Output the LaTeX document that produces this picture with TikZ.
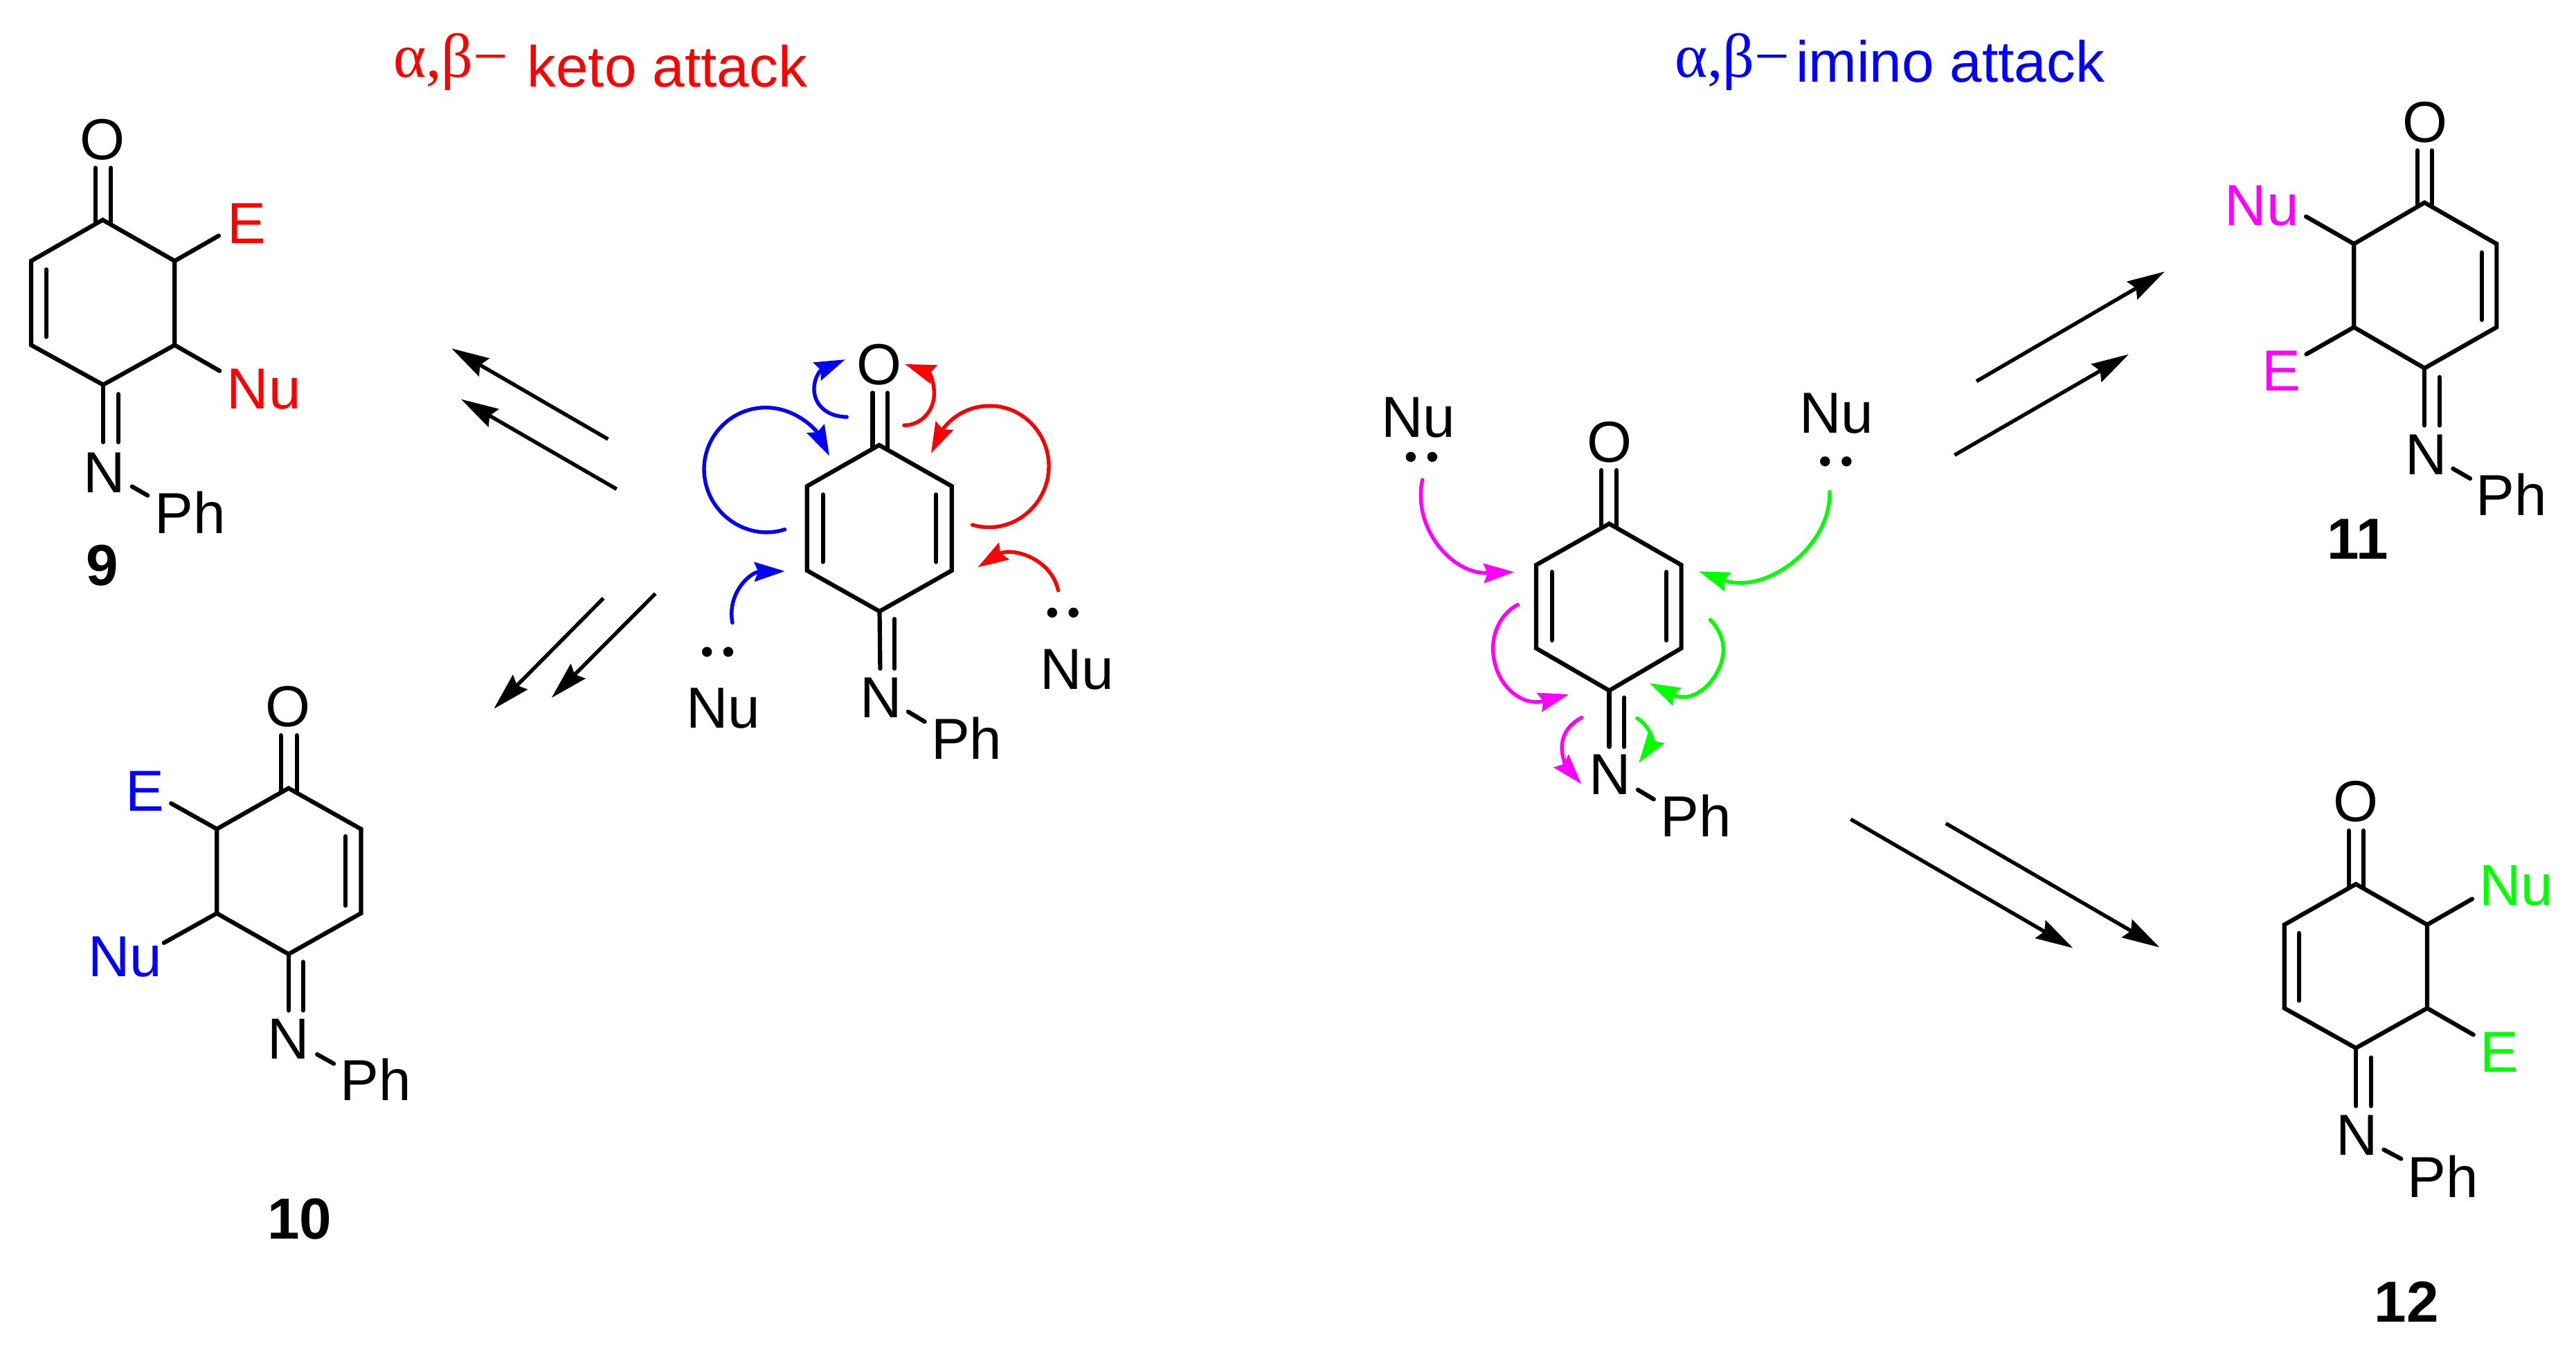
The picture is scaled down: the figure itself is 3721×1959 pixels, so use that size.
\documentclass[tikz,border=0pt]{standalone}
\usepackage{fontspec}
\setmainfont{Liberation Sans}
\newfontfamily\greekserif{Liberation Serif}
\usetikzlibrary{arrows.meta}
\definecolor{cred}{RGB}{255,0,0}
\definecolor{cblue}{RGB}{0,0,255}
\definecolor{cmag}{RGB}{255,0,255}
\definecolor{cgreen}{RGB}{0,255,0}
\tikzset{
  bond/.style={line width=1.55pt,line cap=round,line join=miter,black},
  ringb/.style={line width=1.55pt,line join=miter,black},
  rxn/.style={line width=1.35pt,black,-{Stealth[length=13.5pt,width=7.4pt,inset=1.6pt]}},
  curved/.style={line width=1.35pt,line cap=round,-{Stealth[length=11pt,width=7pt,inset=1.4pt]}},
  lbl/.style={inner sep=0pt,outer sep=0pt,anchor=base,font=\fontsize{20.9}{25}\selectfont},
  num/.style={lbl,font=\fontsize{20.9}{25}\selectfont\bfseries},
  lp/.style={circle,fill=black,inner sep=0pt,minimum size=3.6pt},
  grk/.style={inner sep=0pt,outer sep=0pt,anchor=base west,font=\fontsize{22.5}{27}\selectfont\greekserif},
}
\begin{document}
\begin{tikzpicture}[x=0.25pt,y=-0.25pt]
\useasboundingbox (0,0) rectangle (3721,1959);
% titles
\node[grk,text=cred] (tka) at (568,111.7) {α,β−};
\node[lbl,text=cred] (tkb) at (963.8,125) {keto attack};
\node[grk,text=cblue] (tia) at (2419,111.7) {α,β−};
\node[lbl,text=cblue] (tib) at (2817,118.3) {imino attack};
% ---------- molecule 9
\coordinate (a1) at (148.3,317.6); \coordinate (a2) at (252.3,376.9); \coordinate (a3) at (252.3,498.4);
\coordinate (a4) at (149,555.8); \coordinate (a5) at (45,498.4); \coordinate (a6) at (45,376.9);
\draw[ringb] (a1)--(a2)--(a3)--(a4)--(a5)--(a6)--cycle;
\coordinate (a7) at (66.7,389.3); \coordinate (a8) at (66.7,486.5);
\draw[bond] (a7)--(a8);
\coordinate (a9) at (137.7,242.4); \coordinate (a10) at (137.7,321); \coordinate (a11) at (160,242.4); \coordinate (a12) at (160,321);
\draw[bond] (a9)--(a10); \draw[bond] (a11)--(a12);
\coordinate (a13) at (316,340.5); \coordinate (a14) at (317.3,535.7);
\draw[bond] (a2)--(a13); \draw[bond] (a3)--(a14);
\coordinate (a15) at (149,638.6); \coordinate (a16) at (171,569.2); \coordinate (a17) at (171,638.6);
\draw[bond] (a4)--(a15); \draw[bond] (a16)--(a17);
\coordinate (a18) at (190.7,702.7); \coordinate (a19) at (213.3,715.6);
\draw[bond] (a18)--(a19);
\node[lbl] (aO) at (148.3,230) {O};
\node[lbl,text=cred] (aE) at (356,351) {E};
\node[lbl,text=cred] (aNu) at (381.3,590.8) {Nu};
\node[lbl] (aN) at (150.3,711.3) {N};
\node[lbl] (aPh) at (274.7,770.2) {Ph};
\node[num] (a9n) at (148,845.3) {9};
% ---------- molecule 10
\coordinate (b1) at (416.8,1138.5); \coordinate (b2) at (521.4,1197.4); \coordinate (b3) at (521.4,1319.1);
\coordinate (b4) at (416.8,1378.1); \coordinate (b5) at (313.2,1319.1); \coordinate (b6) at (313.2,1197.4);
\draw[ringb] (b1)--(b2)--(b3)--(b4)--(b5)--(b6)--cycle;
\coordinate (b7) at (498.9,1208); \coordinate (b8) at (498.9,1307.9);
\draw[bond] (b7)--(b8);
\coordinate (b9) at (405.7,1062.1); \coordinate (b10) at (405.7,1142); \coordinate (b11) at (428.6,1062.1); \coordinate (b12) at (428.6,1142);
\draw[bond] (b9)--(b10); \draw[bond] (b11)--(b12);
\coordinate (b13) at (247.1,1160.3); \coordinate (b14) at (236.8,1361.8);
\draw[bond] (b6)--(b13); \draw[bond] (b5)--(b14);
\coordinate (b15) at (416.8,1459.4); \coordinate (b16) at (437.9,1389.3); \coordinate (b17) at (437.9,1459.4);
\draw[bond] (b4)--(b15); \draw[bond] (b16)--(b17);
\coordinate (b18) at (458.2,1522.9); \coordinate (b19) at (482.1,1536.3);
\draw[bond] (b18)--(b19);
\node[lbl] (bO) at (416.4,1049.2) {O};
\node[lbl,text=cblue] (bE) at (209.6,1171) {E};
\node[lbl,text=cblue] (bNu) at (180.7,1410) {Nu};
\node[lbl] (bN) at (417.1,1529.6) {N};
\node[lbl] (bPh) at (542.5,1589.6) {Ph};
\node[num] (b10n) at (432.9,1789.4) {10};
% ---------- molecule 11
\coordinate (c1) at (3502.2,292.6); \coordinate (c2) at (3606.3,352.3); \coordinate (c3) at (3606.3,472.6);
\coordinate (c4) at (3502.2,531.8); \coordinate (c5) at (3400.2,472.6); \coordinate (c6) at (3400.2,352.3);
\draw[ringb] (c1)--(c2)--(c3)--(c4)--(c5)--(c6)--cycle;
\coordinate (c7) at (3584.8,364.7); \coordinate (c8) at (3584.8,462);
\draw[bond] (c7)--(c8);
\coordinate (c9) at (3492,217.3); \coordinate (c10) at (3492,295); \coordinate (c11) at (3512.7,217.3); \coordinate (c12) at (3512.7,295);
\draw[bond] (c9)--(c10); \draw[bond] (c11)--(c12);
\coordinate (c13) at (3331,312.8); \coordinate (c14) at (3331.4,511.6);
\draw[bond] (c6)--(c13); \draw[bond] (c5)--(c14);
\coordinate (c15) at (3502.2,614.5); \coordinate (c16) at (3524,544.7); \coordinate (c17) at (3524,614.5);
\draw[bond] (c4)--(c15); \draw[bond] (c16)--(c17);
\coordinate (c18) at (3543.3,676.9); \coordinate (c19) at (3568.1,691.2);
\draw[bond] (c18)--(c19);
\node[lbl] (cO) at (3503.2,205.5) {O};
\node[lbl,text=cmag] (cNu) at (3267.3,325.7) {Nu};
\node[lbl,text=cmag] (cE) at (3295.3,564.9) {E};
\node[lbl] (cN) at (3504.7,685.6) {N};
\node[lbl] (cPh) at (3627.8,744.9) {Ph};
\node[num] (c11n) at (3406,807.3) {11};
% ---------- molecule 12
\coordinate (d1) at (3403,1277); \coordinate (d2) at (3506,1335.6); \coordinate (d3) at (3506,1456.2);
\coordinate (d4) at (3403,1513.7); \coordinate (d5) at (3299.7,1456.2); \coordinate (d6) at (3299.7,1335.6);
\draw[ringb] (d1)--(d2)--(d3)--(d4)--(d5)--(d6)--cycle;
\coordinate (d7) at (3321,1347.7); \coordinate (d8) at (3321,1445.2);
\draw[bond] (d7)--(d8);
\coordinate (d9) at (3392.7,1199.7); \coordinate (d10) at (3392.7,1281); \coordinate (d11) at (3414,1199.7); \coordinate (d12) at (3414,1281);
\draw[bond] (d9)--(d10); \draw[bond] (d11)--(d12);
\coordinate (d13) at (3571,1298.4); \coordinate (d14) at (3572.7,1494.5);
\draw[bond] (d2)--(d13); \draw[bond] (d3)--(d14);
\coordinate (d15) at (3403,1597.5); \coordinate (d16) at (3425,1527.4); \coordinate (d17) at (3425,1597.5);
\draw[bond] (d4)--(d15); \draw[bond] (d16)--(d17);
\coordinate (d18) at (3443.3,1660.5); \coordinate (d19) at (3468.3,1673.7);
\draw[bond] (d18)--(d19);
\node[lbl] (dO) at (3403.3,1186) {O};
\node[lbl,text=cgreen] (dNu) at (3635,1307.7) {Nu};
\node[lbl,text=cgreen] (dE) at (3610,1548.2) {E};
\node[lbl] (dN) at (3404.7,1668.2) {N};
\node[lbl] (dPh) at (3528.7,1729) {Ph};
\node[num] (d12n) at (3476,1909.9) {12};
% ---------- central left molecule
\coordinate (e1) at (1270,642.9); \coordinate (e2) at (1374.7,702.2); \coordinate (e3) at (1374.7,824.1);
\coordinate (e4) at (1270.5,883); \coordinate (e5) at (1165.8,824.1); \coordinate (e6) at (1165.8,702.2);
\draw[ringb] (e1)--(e2)--(e3)--(e4)--(e5)--(e6)--cycle;
\coordinate (e7) at (1188.7,714.3); \coordinate (e8) at (1188.7,811.6); \coordinate (e9) at (1352.2,714.3); \coordinate (e10) at (1352.2,811.6);
\draw[bond] (e7)--(e8); \draw[bond] (e9)--(e10);
\coordinate (e11) at (1260.4,567.4); \coordinate (e12) at (1260.4,647); \coordinate (e13) at (1282,567.4); \coordinate (e14) at (1282,647);
\draw[bond] (e11)--(e12); \draw[bond] (e13)--(e14);
\coordinate (e15) at (1271.4,965.6); \coordinate (e16) at (1292,894); \coordinate (e17) at (1292,965.6);
\draw[bond] (e4)--(e15); \draw[bond] (e16)--(e17);
\coordinate (e18) at (1311.8,1028); \coordinate (e19) at (1335.7,1042.4);
\draw[bond] (e18)--(e19);
\node[lbl] (eO) at (1270,555) {O};
\node[lbl] (eN) at (1272.3,1036) {N};
\node[lbl] (ePh) at (1396.3,1096.4) {Ph};
\node[lbl] (eNu1) at (1044.6,1051.3) {Nu};
\node[lbl] (eNu2) at (1556,995.5) {Nu};
\node[lp] (ed1) at (1021.2,941.5) {}; \node[lp] (ed2) at (1051.9,941.5) {};
\node[lp] (ed3) at (1519.8,884.8) {}; \node[lp] (ed4) at (1550.6,884.8) {};
% curved arrows, left molecule
\coordinate (f1) at (1133.7,764.7); \coordinate (f2) at (1197.9,658.5);
\draw[curved,cblue] (f1) .. controls (1075.9,783) and (1017,738) .. (1017,677.7) .. controls (1017,628.7) and (1057,588.7) .. (1106,588.7) .. controls (1151,588.7) and (1180,622.7) .. (f2);
\coordinate (f3) at (1223.2,602.2); \coordinate (f4) at (1220.9,519.2);
\draw[curved,cblue] (f3) .. controls (1195,602) and (1175.9,585) .. (1175.9,561.6) .. controls (1175.9,547) and (1184,535) .. (f4);
\coordinate (f5) at (1305.8,614.3); \coordinate (f6) at (1307.2,525.9);
\draw[curved,cred] (f5) .. controls (1332,614) and (1349.4,592) .. (1349.4,568.3) .. controls (1349.4,555) and (1344.4,539.2) .. (f6);
\coordinate (f7) at (1404.5,758); \coordinate (f8) at (1344.9,654.5);
\draw[curved,cred] (f7) .. controls (1460,774.6) and (1515,731) .. (1515,673.2) .. controls (1515,626) and (1477,586) .. (1429.8,586.2) .. controls (1385,586.2) and (1362.5,618.6) .. (f8);
\coordinate (f9) at (1057.9,899.5); \coordinate (f10) at (1133.7,825);
\draw[curved,cblue] (f9) .. controls (1050,855) and (1085,826) .. (f10);
\coordinate (f11) at (1528.5,852.7); \coordinate (f12) at (1412.4,819.2);
\draw[curved,cred] (f11) .. controls (1518,805) and (1460,790) .. (f12);
% ---------- central right molecule
\coordinate (g1) at (2324.5,756.4); \coordinate (g2) at (2428.6,816); \coordinate (g3) at (2428.6,936.3);
\coordinate (g4) at (2324.5,997.4); \coordinate (g5) at (2218.9,936.3); \coordinate (g6) at (2218.9,816);
\draw[ringb] (g1)--(g2)--(g3)--(g4)--(g5)--(g6)--cycle;
\coordinate (g7) at (2241.8,826.1); \coordinate (g8) at (2241.8,924.9); \coordinate (g9) at (2407.1,826.1); \coordinate (g10) at (2407.1,924.9);
\draw[bond] (g7)--(g8); \draw[bond] (g9)--(g10);
\coordinate (g11) at (2313.3,679.2); \coordinate (g12) at (2313.3,760); \coordinate (g13) at (2335.2,679.2); \coordinate (g14) at (2335.2,760);
\draw[bond] (g11)--(g12); \draw[bond] (g13)--(g14);
\coordinate (g15) at (2324.5,1078.7); \coordinate (g16) at (2345.9,1007.5); \coordinate (g17) at (2345.9,1078.7);
\draw[bond] (g4)--(g15); \draw[bond] (g16)--(g17);
\coordinate (g18) at (2365.8,1140.7); \coordinate (g19) at (2388.8,1154.4);
\draw[bond] (g18)--(g19);
\node[lbl] (gO) at (2324.5,667.3) {O};
\node[lbl] (gN) at (2325.5,1147.5) {N};
\node[lbl] (gPh) at (2450,1208.2) {Ph};
\node[lbl] (gNu1) at (2048.7,631) {Nu};
\node[lbl] (gNu2) at (2652.6,625.5) {Nu};
\node[lp] (gd1) at (2037.8,659.9) {}; \node[lp] (gd2) at (2068.9,659.9) {};
\node[lp] (gd3) at (2636.2,666.4) {}; \node[lp] (gd4) at (2667.3,666.4) {};
% curved arrows, right molecule
\coordinate (h1) at (2054.6,693); \coordinate (h2) at (2187.2,826.1);
\draw[curved,cmag] (h1) .. controls (2040,760) and (2095,830) .. (h2);
\coordinate (h3) at (2642.9,710.4); \coordinate (h4) at (2454.1,825.2);
\draw[curved,cgreen] (h3) .. controls (2645,790) and (2550,860) .. (h4);
\coordinate (h5) at (2192.3,873.4); \coordinate (h6) at (2266.3,1002.9);
\draw[curved,cmag] (h5) .. controls (2170,885) and (2156.6,910) .. (2156.6,936.3) .. controls (2156.6,985) and (2195,1022) .. (h6);
\coordinate (h7) at (2470.4,895); \coordinate (h8) at (2382.7,986.8);
\draw[curved,cgreen] (h7) .. controls (2482,907) and (2489.3,922) .. (2489.3,938.6) .. controls (2489.3,975) and (2450,1020) .. (h8);
\coordinate (h9) at (2284.7,1036.4); \coordinate (h10) at (2284.2,1132.4);
\draw[curved,cmag] (h9) .. controls (2265,1047) and (2256,1062) .. (2256.1,1081) .. controls (2256.1,1092) and (2262,1107) .. (h10);
\coordinate (h11) at (2364.8,1037.3); \coordinate (h12) at (2367.3,1101.6);
\draw[curved,cgreen] (h11) .. controls (2385,1050) and (2388,1072) .. (h12);
% ---------- reaction arrows
\coordinate (r1) at (878.3,634.3); \coordinate (r2) at (652.3,503.3);
\coordinate (r3) at (890.7,706.4); \coordinate (r4) at (666,576.6);
\coordinate (r5) at (871.7,864); \coordinate (r6) at (713.3,1023.8);
\coordinate (r7) at (946.7,857.4); \coordinate (r8) at (796.7,1007.9);
\coordinate (r9) at (2855,550.7); \coordinate (r10) at (3126.7,392.3);
\coordinate (r11) at (2823.3,657.3); \coordinate (r12) at (3075,511.7);
\coordinate (r13) at (2673.3,1183.3); \coordinate (r14) at (2994.3,1369.3);
\coordinate (r15) at (2810.7,1189.3); \coordinate (r16) at (3119.3,1368.3);
\draw[rxn] (r1)--(r2); \draw[rxn] (r3)--(r4); \draw[rxn] (r5)--(r6); \draw[rxn] (r7)--(r8);
\draw[rxn] (r9)--(r10); \draw[rxn] (r11)--(r12); \draw[rxn] (r13)--(r14); \draw[rxn] (r15)--(r16);
\end{tikzpicture}
\end{document}
